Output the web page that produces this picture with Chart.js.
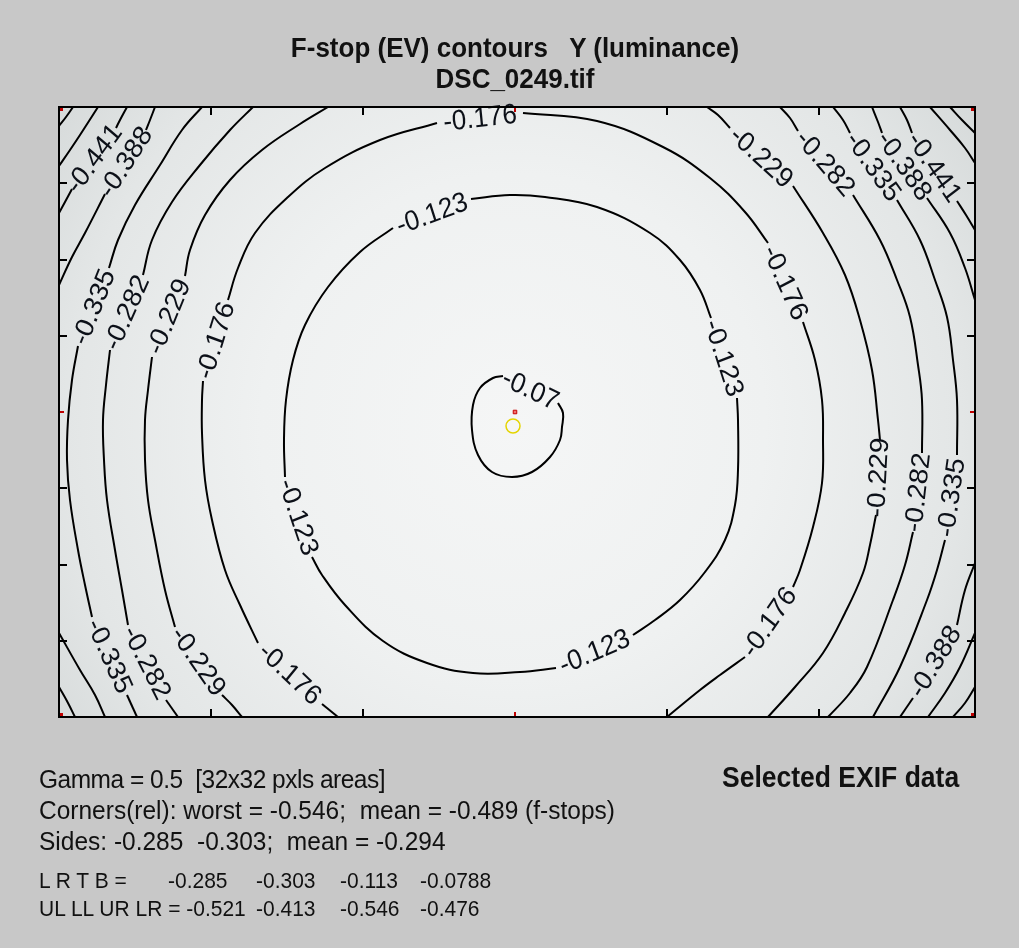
<!DOCTYPE html>
<html>
<head>
<meta charset="utf-8">
<script src="https://cdn.jsdelivr.net/npm/chart.js@4.4.1/dist/chart.umd.min.js"></script>
<style>
body{margin:0;background:#c8c8c8;}
#wrap{position:relative;width:1019px;height:948px;font-family:"Liberation Sans",Arial,sans-serif;color:#111;}
#box{position:absolute;left:0;top:0;width:1019px;height:948px;}
.t{position:absolute;white-space:pre;line-height:1;transform:translateY(-50%) scaleY(1.08);transform-origin:left center;}
.c{transform:translate(-50%,-50%) scaleY(1.08);transform-origin:center center;}
.b{font-weight:bold;}
</style>
</head>
<body>
<div id="wrap">
<div id="box"><canvas id="chart"></canvas></div>
<div class="t c b" style="left:515px;top:47px;font-size:26px">F-stop (EV) contours   Y (luminance)</div>
<div class="t c b" style="left:515px;top:78px;font-size:26px">DSC_0249.tif</div>
<div class="t b" style="left:722px;top:778px;font-size:26.5px">Selected EXIF data</div>
<div class="t" style="left:39px;top:780px;font-size:24.5px;letter-spacing:-0.5px">Gamma = 0.5  [32x32 pxls areas]</div>
<div class="t" style="left:39px;top:811px;font-size:24.5px" id="cornersLine"></div>
<div class="t" style="left:39px;top:842px;font-size:24.5px" id="sidesLine"></div>
<div id="rows"></div>
</div>
<script>
// contour levels (f-stops relative to the brightest spot)
const levelValues = [-0.07, -0.123, -0.176, -0.229, -0.282, -0.335, -0.388, -0.441, -0.494, -0.547];

// image position in frame units: x 0..916 (left -> right), y 0..610 (top -> bottom)
// each contour = runs of segments; neighbouring segments in a run are split by the value label
const ev070 = [[
  [[499,296],[504,306],[503,320],[501,333],[491,350],[473,365],[453,370],[433,365],[419,348],[413,323],[414,298],[421,281],[434,271],[444,269]]
]];
const ev123 = [[
  [[412,92],[451,88],[486,90],[538,100],[591,126],[621,153],[641,183],[652,211]],
  [[678,291],[679,313],[679,363],[676,398],[666,433],[646,465],[621,493],[596,513],[574,528]],
  [[497,561],[461,565],[414,566],[368,556],[324,534],[286,498],[263,468],[253,450]],
  [[226,370],[225,333],[227,293],[234,253],[246,218],[269,180],[301,145],[334,121]]
]];
const ev176 = [[
  [[279,610],[263,597]],
  [[199,536],[181,498],[166,463],[153,413],[146,373],[143,326],[143,293],[144,274]],
  [[169,193],[179,161],[196,126],[229,90],[266,61],[321,33],[378,16]],
  [[464,6],[538,14],[604,40],[651,71],[686,105],[709,136]],
  [[744,215],[756,253],[763,293],[764,333],[763,376],[754,420],[741,463],[734,480]],
  [[686,550],[661,568],[641,583],[608,610]]
]];
const ev229 = [
  [
    [[269,0],[241,17],[203,43],[171,73],[146,108],[131,143],[126,169]],
    [[93,250],[89,283],[86,313],[86,353],[89,393],[96,433],[106,483],[116,520]],
    [[163,588],[173,598],[183,610]]
  ],
  [
    [[648,0],[659,8],[671,21]],
    [[734,79],[764,126],[786,168],[801,213],[813,263],[819,313],[821,333]],
    [[817,408],[811,438],[804,466],[786,506],[764,546],[736,580],[709,610]]
  ]
];
const ev282 = [
  [
    [[194,0],[171,23],[141,58],[113,95],[93,133],[84,168]],
    [[51,243],[47,278],[44,313],[45,353],[48,393],[56,443],[63,483],[69,518]],
    [[107,593],[119,610]]
  ],
  [
    [[721,0],[731,11],[739,24]],
    [[794,88],[821,133],[838,173],[851,210],[859,258],[863,293],[863,346]],
    [[854,425],[846,458],[834,493],[808,560],[791,586],[769,610]]
  ]
];
const ev335 = [
  [
    [[143,0],[123,23],[101,58],[76,98],[59,133],[50,161]],
    [[19,239],[13,273],[9,313],[8,353],[11,393],[19,443],[26,478],[33,510]],
    [[68,588],[78,610]]
  ],
  [
    [[774,0],[784,13],[791,26]],
    [[838,93],[861,133],[876,173],[888,210],[894,253],[898,293],[898,348]],
    [[886,433],[878,463],[868,493],[841,560],[814,610]]
  ]
];
const ev388 = [
  [[[96,0],[91,13],[87,23]], [[46,87],[26,126],[13,150],[0,178]]],
  [[[0,526],[21,563],[36,588],[46,610]]],
  [[[813,0],[819,15],[823,26]], [[868,91],[891,126],[906,161],[916,193]]],
  [[[916,456],[906,483],[898,518]], [[854,591],[841,610]]]
];
const ev441 = [
  [[[68,0],[61,13],[57,21]], [[13,82],[6,95],[0,106]]],
  [[[0,580],[9,596],[16,610]]],
  [[[841,0],[848,13],[853,26]], [[898,94],[907,108],[916,123]]],
  [[[916,526],[901,560],[886,586],[869,610]]]
];
const ev494 = [
  [[[39,0],[21,28],[11,43],[0,59]]],
  [[[871,0],[891,23],[906,41],[916,56]]],
  [[[916,580],[906,596],[894,610]]]
];
const ev547 = [
  [[[14,0],[7,10],[0,19]]],
  [[[891,0],[903,13],[916,26]]]
];
const levelLines = [ev070, ev123, ev176, ev229, ev282, ev335, ev388, ev441, ev494, ev547];
const closedLoops = [true, true, false, false, false, false, false, false, false, false];

const imageCenter = [[456,305]];
const peakSpot = [[454,319]];
const xTicks = [152, 304, 608, 760];
const yTicks = [76, 152.5, 229, 381, 457.5, 534];

// summary numbers
const cornersWorst = '-0.546', cornersMean = '-0.489';
const sidesVals = ['-0.285', '-0.303'], sidesMean = '-0.294';
const lrtbVals = ['-0.285', '-0.303', '-0.113', '-0.0788'];
const cornerVals = ['-0.521', '-0.413', '-0.546', '-0.476'];

const stretchY = 1.08;

document.getElementById('cornersLine').textContent =
  'Corners(rel): worst = ' + cornersWorst + ';  mean = ' + cornersMean + ' (f-stops)';
document.getElementById('sidesLine').textContent =
  'Sides: ' + sidesVals[0] + '  ' + sidesVals[1] + ';  mean = ' + sidesMean;

function addText(txt, left, top, size){
    let d = document.createElement('div');
    d.className = 't';
    d.style.left = left + 'px';
    d.style.top = top + 'px';
    d.style.fontSize = size + 'px';
    d.textContent = txt;
    document.getElementById('rows').appendChild(d);
}
const colX = [168, 256, 340, 420];
addText('L R T B =', 39, 880, 21);
lrtbVals.forEach((v, i) => addText(v, colX[i], 880, 21));
addText('UL LL UR LR = ' + cornerVals[0], 39, 908, 21);
cornerVals.slice(1).forEach((v, i) => addText(v, colX[i + 1], 908, 21));

let datasets = [];
levelLines.forEach(runs => {
    runs.forEach(run => {
        run.forEach(seg => {
            datasets.push({
                data: seg.map(p => ({x: p[0], y: p[1]})),
                showLine: true,
                borderColor: '#000',
                borderWidth: 2,
                pointRadius: 0,
                tension: 0.4,
                fill: false
            });
        });
    });
});
datasets.unshift({
    data: peakSpot.map(p => ({x: p[0], y: p[1]})),
    pointStyle: 'circle',
    pointRadius: 7,
    borderColor: '#e4d400',
    borderWidth: 1.5,
    backgroundColor: 'rgba(0,0,0,0)'
});
datasets.unshift({
    data: imageCenter.map(p => ({x: p[0], y: p[1]})),
    pointStyle: 'rect',
    pointRadius: 2.5,
    borderColor: '#c80000',
    borderWidth: 1,
    backgroundColor: '#f07070'
});

const plotBack = {
    id: 'plotBack',
    beforeDraw(chart){
        const {ctx, chartArea: a, scales: {x, y}} = chart;
        const cx = x.getPixelForValue(peakSpot[0][0]);
        const cy = y.getPixelForValue(peakSpot[0][1]);
        let g = ctx.createRadialGradient(cx, cy, 0, cx, cy, 560);
        g.addColorStop(0, '#f5f6f6');
        g.addColorStop(0.45, '#eff1f1');
        g.addColorStop(0.8, '#e3e6e6');
        g.addColorStop(1, '#d6dada');
        ctx.save();
        ctx.fillStyle = g;
        ctx.fillRect(a.left, a.top, a.width, a.height);
        ctx.restore();
    }
};

const valueLabels = {
    id: 'valueLabels',
    afterDatasetsDraw(chart){
        const {ctx, scales: {x, y}} = chart;
        ctx.save();
        ctx.font = '26px "Liberation Sans", Arial, sans-serif';
        ctx.fillStyle = '#0c1018';
        ctx.textAlign = 'center';
        ctx.textBaseline = 'middle';
        levelLines.forEach((runs, i) => {
            const text = String(levelValues[i]);
            runs.forEach(run => {
                const n = run.length;
                const gaps = closedLoops[i] ? n : n - 1;
                for(let k = 0; k < gaps; k++){
                    const s1 = run[k], s2 = run[(k + 1) % n];
                    const p = s1[s1.length - 1], q = s2[0];
                    const px = x.getPixelForValue(p[0]), py = y.getPixelForValue(p[1]);
                    const qx = x.getPixelForValue(q[0]), qy = y.getPixelForValue(q[1]);
                    let ang = Math.atan2((qy - py) / stretchY, qx - px);
                    if(ang > Math.PI / 2){ ang -= Math.PI; }
                    else if(ang < -Math.PI / 2){ ang += Math.PI; }
                    ctx.save();
                    ctx.translate((px + qx) / 2, (py + qy) / 2);
                    ctx.scale(1, stretchY);
                    ctx.rotate(ang);
                    ctx.fillText(text, 0, 1);
                    ctx.restore();
                }
            });
        });
        ctx.restore();
    }
};

const frameTicks = {
    id: 'frameTicks',
    afterDraw(chart){
        const {ctx, chartArea: a, scales: {x, y}} = chart;
        function seg(x1, y1, x2, y2){
            ctx.beginPath(); ctx.moveTo(x1, y1); ctx.lineTo(x2, y2); ctx.stroke();
        }
        ctx.save();
        ctx.strokeStyle = '#000';
        ctx.lineWidth = 2;
        xTicks.forEach(v => {
            const px = Math.round(x.getPixelForValue(v));
            seg(px, a.top, px, a.top + 8);
            seg(px, a.bottom, px, a.bottom - 8);
        });
        yTicks.forEach(v => {
            const py = Math.round(y.getPixelForValue(v));
            seg(a.left, py, a.left + 8, py);
            seg(a.right, py, a.right - 8, py);
        });
        ctx.strokeStyle = '#c00000';
        const mx = Math.round(x.getPixelForValue(imageCenter[0][0]));
        const my = Math.round(y.getPixelForValue(imageCenter[0][1]));
        seg(mx, a.top, mx, a.top + 5);
        seg(mx, a.bottom, mx, a.bottom - 5);
        seg(a.left, my, a.left + 5, my);
        seg(a.right, my, a.right - 5, my);
        ctx.fillStyle = '#c00000';
        [[a.left + 1, a.top + 1], [a.right - 4, a.top + 1], [a.left + 1, a.bottom - 4], [a.right - 4, a.bottom - 4]]
            .forEach(c => ctx.fillRect(c[0], c[1], 3, 3));
        ctx.strokeStyle = '#000';
        ctx.lineWidth = 2;
        ctx.strokeRect(a.left, a.top, a.right - a.left, a.bottom - a.top);
        ctx.restore();
    }
};

new Chart(
    document.getElementById('chart'),
    {
        type: 'scatter',
        data: {datasets: datasets},
        options: {
            responsive: true,
            maintainAspectRatio: false,
            animation: false,
            events: [],
            layout: {padding: {left: 59, top: 107, right: 44, bottom: 231}},
            scales: {
                x: {type: 'linear', min: 0, max: 916, display: false},
                y: {type: 'linear', min: 0, max: 610, reverse: true, display: false}
            },
            plugins: {
                legend: {display: false},
                tooltip: {enabled: false}
            }
        },
        plugins: [plotBack, valueLabels, frameTicks]
    }
);
</script>
</body>
</html>
